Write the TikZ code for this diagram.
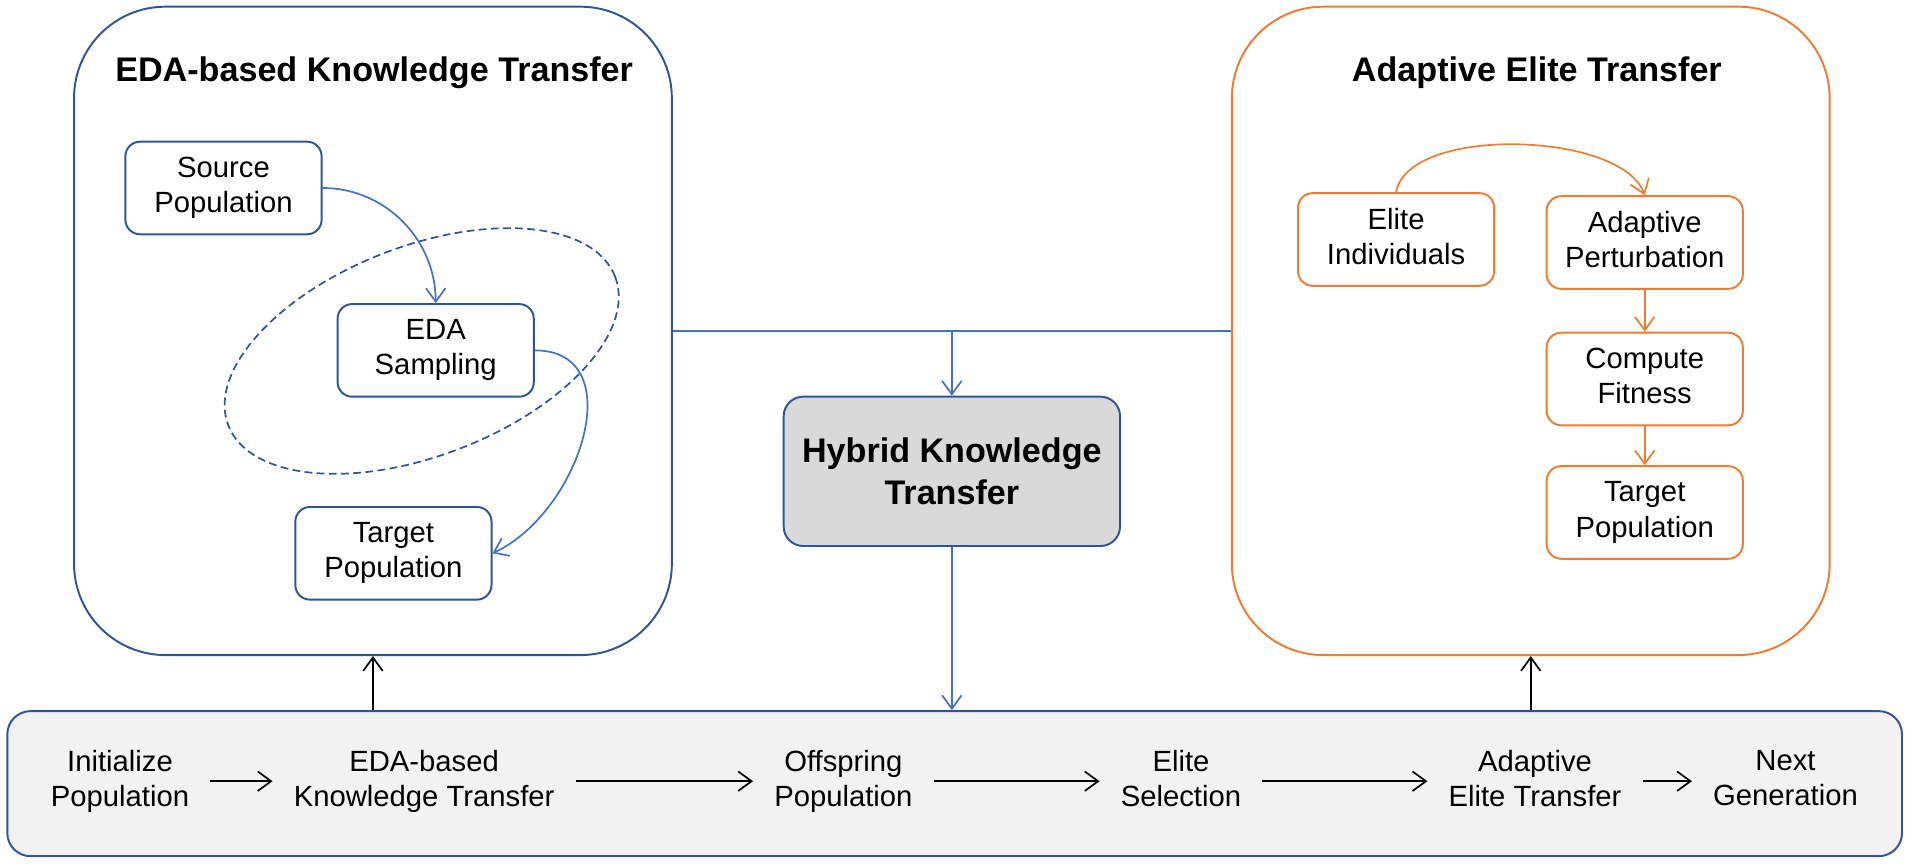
\documentclass[tikz,border=0pt]{standalone}
\usepackage{fontspec}
\setmainfont{Liberation Sans}
\usetikzlibrary{arrows.meta}
\definecolor{boxblue}{HTML}{2F5597}
\definecolor{lineblue}{HTML}{4472C4}
\definecolor{eliteorange}{HTML}{ED7D31}
\definecolor{hybgray}{HTML}{D9D9D9}
\definecolor{bargray}{HTML}{F2F2F2}

\begin{document}
\begin{tikzpicture}[x=0.5pt,y=0.5pt,
  panel/.style={minimum width=245.25pt,minimum height=266pt,rounded corners=37.5pt,line width=0.8pt,inner sep=0pt},
  ttl/.style={font=\fontsize{14}{17}\selectfont\bfseries},
  stage/.style={minimum width=80.5pt,minimum height=38pt,rounded corners=6pt,line width=0.8pt,align=center,inner sep=0pt,fill=white,font=\fontsize{12}{14.4}\selectfont,execute at begin node=\vphantom{l},execute at end node=\vphantom{p}},
  flowtxt/.style={align=center,inner xsep=8.5pt,inner ysep=0pt,font=\fontsize{12}{14.4}\selectfont,execute at begin node=\vphantom{l},execute at end node=\vphantom{p}},
  openhead/.style={-{Straight Barb[length=5.5pt,width=8pt]}},
  bluearr/.style={openhead,draw=lineblue,line width=0.7pt},
  orgarr/.style={openhead,draw=eliteorange,line width=0.7pt},
  blkarr/.style={openhead,draw=black,line width=0.7pt}]
\useasboundingbox (0,0) rectangle (1568,-709.7);
% the two panels
\node[panel,draw=boxblue] (lft) at (306,-271.5) {};
\node[panel,draw=eliteorange] (rgt) at (1256,-271.5) {};
\node[ttl] (lttl) at (307,-60) {EDA-based Knowledge Transfer};
\node[ttl] (rttl) at (1261,-60) {Adaptive Elite Transfer};
% left panel
\draw[boxblue,line width=0.7pt,dash pattern=on 3.2pt off 1.8pt,rotate around={21:(346,-288)}] (346,-288) ellipse [x radius=85pt,y radius=43pt];
\node[stage,draw=boxblue] (src) at (183.4,-154.25) {Source\\Population};
\node[stage,draw=boxblue] (eda) at (357.5,-287.5) {EDA\\Sampling};
\node[stage,draw=boxblue] (ltgt) at (322.8,-454) {Target\\Population};
\draw[bluearr] (src.east) to[out=0,in=90] (eda.north);
\draw[bluearr] (eda.east) to[out=0,in=25,looseness=1.2] (ltgt.east);
% right panel
\node[stage,draw=eliteorange] (elite) at (1145.5,-196.5) {Elite\\Individuals};
\node[stage,draw=eliteorange] (pert) at (1349.5,-199) {Adaptive\\Perturbation};
\node[stage,draw=eliteorange] (fit) at (1349.5,-311) {Compute\\Fitness};
\node[stage,draw=eliteorange] (rtgt) at (1349.5,-420.5) {Target\\Population};
\draw[orgarr] (elite.north) to[out=80,in=110,looseness=0.7] (pert.north);
\draw[orgarr] (pert) -- (fit);
\draw[orgarr] (fit) -- (rtgt);
% hybrid box
\node[draw=boxblue,fill=hybgray,line width=0.8pt,rounded corners=8pt,minimum width=138pt,minimum height=61.25pt,align=center,font=\fontsize{14}{17}\selectfont\bfseries] (hyb) at (781,-386.75) {Hybrid Knowledge\\Transfer};
\draw[lineblue,line width=0.7pt] (lft.east) -- (rgt.west);
\draw[bluearr] (lft.east -| hyb.north) -- (hyb.north);
% bottom flow
\node[draw=boxblue,fill=bargray,line width=0.8pt,rounded corners=9.5pt,minimum width=777.3pt,minimum height=59.5pt] (bar) at (783.3,-643) {};
\node[flowtxt] (init) at (98.5,-641) {Initialize\\Population};
\node[flowtxt] (edab) at (348,-641) {EDA-based\\Knowledge Transfer};
\node[flowtxt] (offs) at (692,-641) {Offspring\\Population};
\node[flowtxt] (elsel) at (969,-641) {Elite\\Selection};
\node[flowtxt] (adap) at (1259.5,-641) {Adaptive\\Elite Transfer};
\node[flowtxt] (nxt) at (1465,-641) {Next\\Generation};
\draw[blkarr] (init) -- (edab);
\draw[blkarr] (edab) -- (offs);
\draw[blkarr] (offs) -- (elsel);
\draw[blkarr] (elsel) -- (adap);
\draw[blkarr] (adap) -- (nxt);
\draw[bluearr] (hyb.south) -- (hyb.south |- bar.north);
\draw[blkarr] (lft.south |- bar.north) -- (lft.south);
\draw[blkarr] (rgt.south |- bar.north) -- (rgt.south);
\end{tikzpicture}
\end{document}
